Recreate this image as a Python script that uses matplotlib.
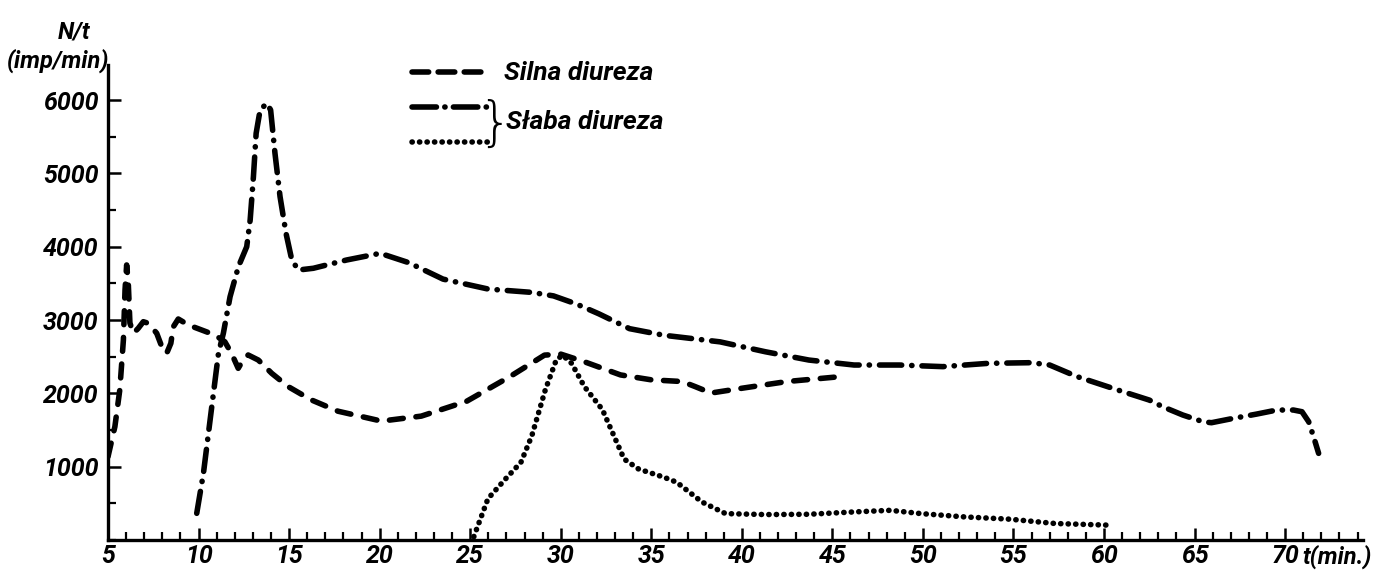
import matplotlib
matplotlib.use("Agg")
import matplotlib.pyplot as plt
from matplotlib.lines import Line2D
from matplotlib.ticker import MultipleLocator, FixedLocator
from matplotlib import font_manager as fm

# ---- data ----
silna_t = [5.0, 5.38, 5.65, 5.85, 5.94, 6.03, 6.12, 6.21, 6.40, 6.67, 6.95, 7.23, 7.69, 7.97,
           8.24, 8.47, 8.61, 8.88, 9.44, 10.17, 10.9, 11.45, 11.82, 12.19, 12.46, 12.74, 13.3,
           14.04, 14.96, 16.2, 17.7, 20.1, 22.3, 24.8, 27.2, 29.1, 30.0, 31.3, 33.3, 35.0,
           36.7, 37.4, 38.3, 40.05, 42.5, 45.5]
silna_n = [1136, 1546, 2046, 2728, 3410, 3752, 3506, 2960, 2820, 2888, 2978, 2956, 2820, 2637,
           2547, 2683, 2910, 3015, 2933, 2865, 2797, 2705, 2547, 2342, 2455, 2524, 2455,
           2274, 2091, 1914, 1757, 1622, 1690, 1892, 2230, 2522, 2536, 2432, 2252, 2185,
           2162, 2095, 2005, 2072, 2162, 2230]

slaba1_t = [9.9, 10.27, 10.73, 11.1, 11.37, 11.74, 12.2, 12.66, 12.85, 13.03, 13.18, 13.4,
            13.77, 13.98, 14.22, 14.5, 14.83, 15.15, 15.51, 16.34, 18.18, 20.03, 21.6, 23.5,
            26.0, 28.4, 29.6, 30.85, 32.1, 33.8, 35.7, 38.8, 41.3, 43.7, 46.2, 48.7, 51.1,
            53.6, 56.0, 57.0, 58.5, 61.0, 62.5, 63.24, 64.35, 65.46, 65.93, 67.13, 68.43,
            69.54, 70.46, 70.93, 71.3, 71.57, 71.85]
slaba1_n = [364, 910, 1819, 2547, 2820, 3319, 3729, 4001, 4366, 4956, 5548, 5866,
            5958, 5866, 5276, 4684, 4184, 3820, 3683, 3707, 3820, 3911, 3784, 3559,
            3423, 3378, 3330, 3221, 3086, 2883, 2793, 2703, 2568, 2455, 2387, 2387, 2365,
            2410, 2419, 2387, 2230, 2027, 1909, 1818, 1705, 1614, 1600, 1659, 1718,
            1773, 1773, 1750, 1614, 1409, 1182]

slaba2_t = [25.2, 25.98, 26.95, 27.8, 28.4, 29.15, 29.75, 30.1, 30.6, 31.3, 32.3, 33.5, 34.3,
            35.7, 36.4, 37.8, 39.1, 41.3, 43.7, 46.2, 48.2, 49.9, 52.3, 54.8, 57.3, 60.2]
slaba2_n = [45, 563, 833, 1059, 1419, 2050, 2455, 2522, 2410, 2095, 1779, 1104, 968,
            856, 788, 518, 360, 347, 351, 383, 405, 360, 315, 284, 225, 203]

x_major = [5, 10, 15, 20, 25, 30, 35, 40, 45, 50, 55, 60, 65, 70]
x_labels = [str(v) for v in x_major]
y_major = [1000, 2000, 3000, 4000, 5000, 6000]
y_labels = [str(v) for v in y_major]

label_silna = "Silna diureza"
label_slaba = "Słaba diureza"

# ---- font choice (narrow italic bold if available) ----
names = {f.name for f in fm.fontManager.ttflist}
if "Liberation Sans Narrow" in names:
    FONT = dict(family=["Liberation Sans Narrow", "DejaVu Sans"], style="italic", weight="bold")
    TS = 20
elif "Roboto" in names:
    FONT = dict(family=["Roboto", "DejaVu Sans"], style="italic", weight="bold")
    TS = 18
else:
    FONT = dict(family=["DejaVu Sans"], style="italic", weight="bold", stretch="condensed")
    TS = 16

# ---- figure ----
W, H = 1374, 573
fig = plt.figure(figsize=(W / 100, H / 100), dpi=100)
fig.patch.set_facecolor("white")
ax = fig.add_axes([108 / W, 33 / H, 1255 / W, 475 / H])
ax.set_xlim(5, 74.3)
ax.set_ylim(0, 6480)

LW = 4.0
dash_style = (0, (2.5, 2.3))
dashdot_style = (0, (4.0, 1.8, 0.05, 1.8))
dot_style = (0, (0.05, 1.3))

common = dict(color="black", dash_capstyle="round", solid_capstyle="round", solid_joinstyle="round")
ax.plot(silna_t, silna_n, linestyle=dash_style, lw=LW, **common)
ax.plot(slaba1_t, slaba1_n, linestyle=dashdot_style, lw=LW, **common)
ax.plot(slaba2_t, slaba2_n, linestyle=dot_style, lw=LW, **common)

# spines
for s in ["top", "right"]:
    ax.spines[s].set_visible(False)
for s in ["left", "bottom"]:
    ax.spines[s].set_linewidth(2.4)

ax.xaxis.set_major_locator(FixedLocator(x_major))
ax.set_xticklabels(x_labels, **FONT, fontsize=TS)
ax.xaxis.set_minor_locator(MultipleLocator(1))
ax.yaxis.set_major_locator(FixedLocator(y_major))
ax.set_yticklabels(y_labels, **FONT, fontsize=TS)
ax.yaxis.set_minor_locator(MultipleLocator(500))
ax.tick_params(axis="both", which="major", direction="in", length=9, width=1.8)
ax.tick_params(axis="both", which="minor", direction="in", length=5.5, width=1.6)
ax.tick_params(axis="x", which="major", pad=3)
ax.tick_params(axis="y", which="major", pad=7)

# axis labels
fig.text(74 / W, 1 - 32 / H, "N/t", ha="center", va="center", fontsize=TS - 1, **FONT)
fig.text(58 / W, 1 - 61 / H, "(imp/min)", ha="center", va="center", fontsize=TS - 1, **FONT)
fig.text(1302 / W, 1 - 557 / H, "t(min.)", ha="left", va="center", fontsize=TS - 1, **FONT)

# custom legend
def key(y_px, ls):
    fig.add_artist(Line2D([412 / W, 490 / W], [1 - y_px / H] * 2, linestyle=ls, lw=LW,
                          transform=fig.transFigure, **common))

key(72, (0, (3.0, 1.7)))
key(107, (0, (4.4, 1.5, 0.05, 1.5)))
key(142, (0, (0.05, 1.3)))
fig.text(504 / W, 1 - 73 / H, label_silna, ha="left", va="center", fontsize=TS + 1, **FONT)
fig.text(495 / W, 1 - 125 / H, "}", ha="center", va="center", fontsize=38,
         family="DejaVu Sans", weight="light", color="black")
fig.text(506 / W, 1 - 122 / H, label_slaba, ha="left", va="center", fontsize=TS + 1, **FONT)

fig.savefig("out.png", dpi=100, facecolor="white")
